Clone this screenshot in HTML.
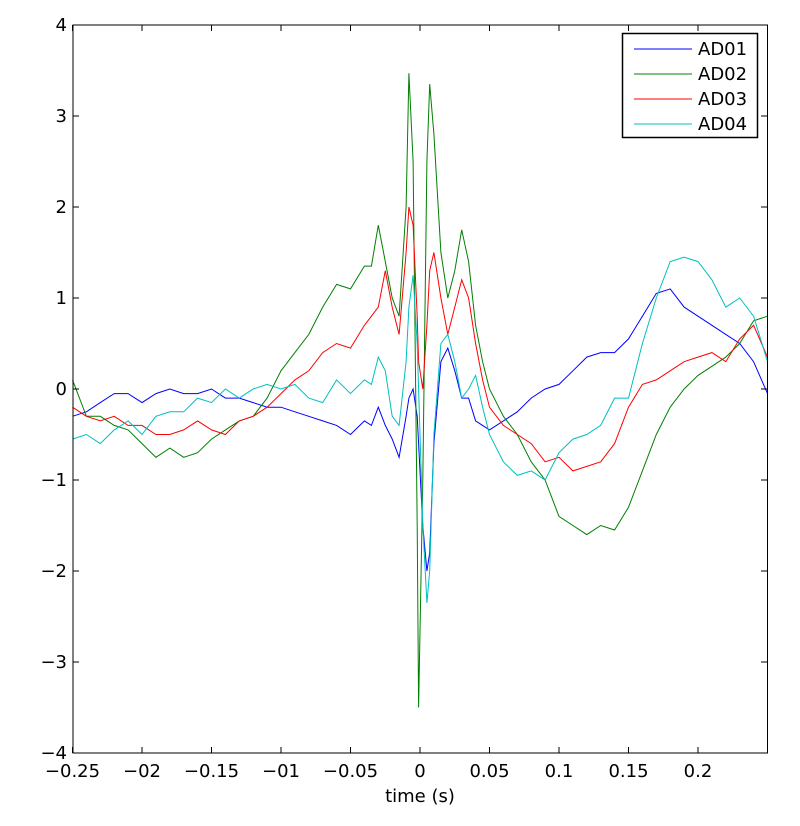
<!DOCTYPE html>
<html><head><meta charset="utf-8"><style>
body{margin:0;background:#fff}
svg{display:block;font-family:"DejaVu Sans","Liberation Sans",sans-serif}
</style></head><body>
<svg id="chart" width="800" height="826">
<rect x="0" y="0" width="800" height="826" fill="#fff"/>
<g id="series"></g>
<rect x="73" y="25" width="694.5" height="728" fill="none" stroke="#000" stroke-width="1"/>
<g id="ticks"></g>
<text x="420" y="802" font-size="18" text-anchor="middle">time (s)</text>
<g>
<rect x="622.5" y="33.5" width="135" height="104" fill="#fff" stroke="#000" stroke-width="1.5"/>
<line x1="634" y1="49" x2="692" y2="49" stroke="#0000ff"/>
<text x="698" y="55" font-size="18">AD01</text>
<line x1="634" y1="74" x2="692" y2="74" stroke="#007f00"/>
<text x="698" y="80" font-size="18">AD02</text>
<line x1="634" y1="99" x2="692" y2="99" stroke="#ff0000"/>
<text x="698" y="105" font-size="18">AD03</text>
<line x1="634" y1="124" x2="692" y2="124" stroke="#00bfbf"/>
<text x="698" y="130" font-size="18">AD04</text>
</g>
</svg>
<script>
const times = [-0.25,-0.24,-0.23,-0.22,-0.21,-0.20,-0.19,-0.18,-0.17,-0.16,-0.15,-0.14,-0.13,-0.12,-0.11,-0.10,-0.09,-0.08,-0.07,-0.06,-0.05,-0.04,
-0.035,-0.03,-0.025,-0.02,-0.015,-0.01,-0.008,-0.005,-0.002,-0.001,0.002,0.005,0.007,0.01,0.015,0.02,0.025,0.03,0.035,0.04,0.045,0.05,
0.06,0.07,0.08,0.09,0.10,0.11,0.12,0.13,0.14,0.15,0.16,0.17,0.18,0.19,0.20,0.21,0.22,0.23,0.24,0.25];
const ad01 = [-0.3,-0.25,-0.15,-0.05,-0.05,-0.15,-0.05,0.0,-0.05,-0.05,0.0,-0.1,-0.1,-0.15,-0.2,-0.2,-0.25,-0.3,-0.35,-0.4,-0.5,-0.35,
-0.4,-0.2,-0.4,-0.55,-0.75,-0.3,-0.1,0.0,-0.3,-0.6,-1.5,-2.0,-1.8,-0.6,0.3,0.45,0.2,-0.1,-0.1,-0.35,-0.4,-0.45,
-0.35,-0.25,-0.1,0.0,0.05,0.2,0.35,0.4,0.4,0.55,0.8,1.05,1.1,0.9,0.8,0.7,0.6,0.5,0.3,-0.05];
const ad02 = [0.1,-0.3,-0.3,-0.4,-0.45,-0.6,-0.75,-0.65,-0.75,-0.7,-0.55,-0.45,-0.35,-0.3,-0.1,0.2,0.4,0.6,0.9,1.15,1.1,1.35,
1.35,1.8,1.4,1.0,0.8,2.0,3.47,2.5,-1.5,-3.5,-1.0,2.5,3.35,2.8,1.5,1.0,1.3,1.75,1.4,0.7,0.3,0.0,
-0.3,-0.5,-0.8,-1.0,-1.4,-1.5,-1.6,-1.5,-1.55,-1.3,-0.9,-0.5,-0.2,0.0,0.15,0.25,0.35,0.5,0.75,0.8];
const ad03 = [-0.2,-0.3,-0.35,-0.3,-0.4,-0.4,-0.5,-0.5,-0.45,-0.35,-0.45,-0.5,-0.35,-0.3,-0.2,-0.05,0.1,0.2,0.4,0.5,0.45,0.7,
0.8,0.9,1.3,0.9,0.6,1.5,2.0,1.8,0.8,0.3,0.0,0.7,1.3,1.5,1.0,0.6,0.9,1.2,1.0,0.5,0.1,-0.2,
-0.4,-0.5,-0.6,-0.8,-0.75,-0.9,-0.85,-0.8,-0.6,-0.2,0.05,0.1,0.2,0.3,0.35,0.4,0.3,0.55,0.7,0.35];
const ad04 = [-0.55,-0.5,-0.6,-0.45,-0.35,-0.5,-0.3,-0.25,-0.25,-0.1,-0.15,0.0,-0.1,0.0,0.05,0.0,0.05,-0.1,-0.15,0.1,-0.05,0.1,
0.05,0.35,0.2,-0.3,-0.4,0.3,0.9,1.25,0.5,0.0,-1.5,-2.35,-2.0,-0.5,0.5,0.6,0.3,-0.1,0.0,0.15,-0.2,-0.5,
-0.8,-0.95,-0.9,-1.0,-0.7,-0.55,-0.5,-0.4,-0.1,-0.1,0.5,1.0,1.4,1.45,1.4,1.2,0.9,1.0,0.8,0.3];
const xTicks = [-0.25,-0.2,-0.15,-0.1,-0.05,0,0.05,0.1,0.15,0.2];
const xTickLabels = ["\u22120.25","\u221202","\u22120.15","\u221201","\u22120.05","0","0.05","0.1","0.15","0.2"];
const yTicks = [-4,-3,-2,-1,0,1,2,3,4];
const yTickLabels = ["\u22124","\u22123","\u22122","\u22121","0","1","2","3","4"];

const NS="http://www.w3.org/2000/svg";
function xs(t){return 420+t*1390;}
function ys(v){return 389-v*91;}
const sg=document.getElementById('series');
const series=[["ad01",ad01,"#0000ff"],["ad02",ad02,"#007f00"],["ad03",ad03,"#ff0000"],["ad04",ad04,"#00bfbf"]];
series.forEach(s=>{
  const p=document.createElementNS(NS,'polyline');
  p.setAttribute('points',times.map((t,i)=>xs(t).toFixed(1)+','+ys(s[1][i]).toFixed(1)).join(' '));
  p.setAttribute('fill','none');p.setAttribute('stroke',s[2]);p.setAttribute('stroke-width','1');
  
  
  sg.appendChild(p);
});
const tg=document.getElementById('ticks');
xTicks.forEach((t,i)=>{
  const x=xs(t);
  [[753,747],[25,31]].forEach(a=>{
    const l=document.createElementNS(NS,'line');
    l.setAttribute('x1',x);l.setAttribute('x2',x);l.setAttribute('y1',a[0]);l.setAttribute('y2',a[1]);l.setAttribute('stroke','#000');
    
    
    tg.appendChild(l);
  });
  const tx=document.createElementNS(NS,'text');
  tx.setAttribute('x',x);tx.setAttribute('y',777);tx.setAttribute('font-size','18');tx.setAttribute('text-anchor','middle');
  tx.textContent=xTickLabels[i];
  
  
  tg.appendChild(tx);
});
yTicks.forEach((v,i)=>{
  const y=ys(v);
  [[73,79],[767,761]].forEach(a=>{
    const l=document.createElementNS(NS,'line');
    l.setAttribute('x1',a[0]);l.setAttribute('x2',a[1]);l.setAttribute('y1',y);l.setAttribute('y2',y);l.setAttribute('stroke','#000');
    
    
    tg.appendChild(l);
  });
  const tx=document.createElementNS(NS,'text');
  tx.setAttribute('x',67);tx.setAttribute('y',y+6);tx.setAttribute('font-size','18');tx.setAttribute('text-anchor','end');
  tx.textContent=yTickLabels[i];
  
  
  tg.appendChild(tx);
});
</script>
</body></html>
